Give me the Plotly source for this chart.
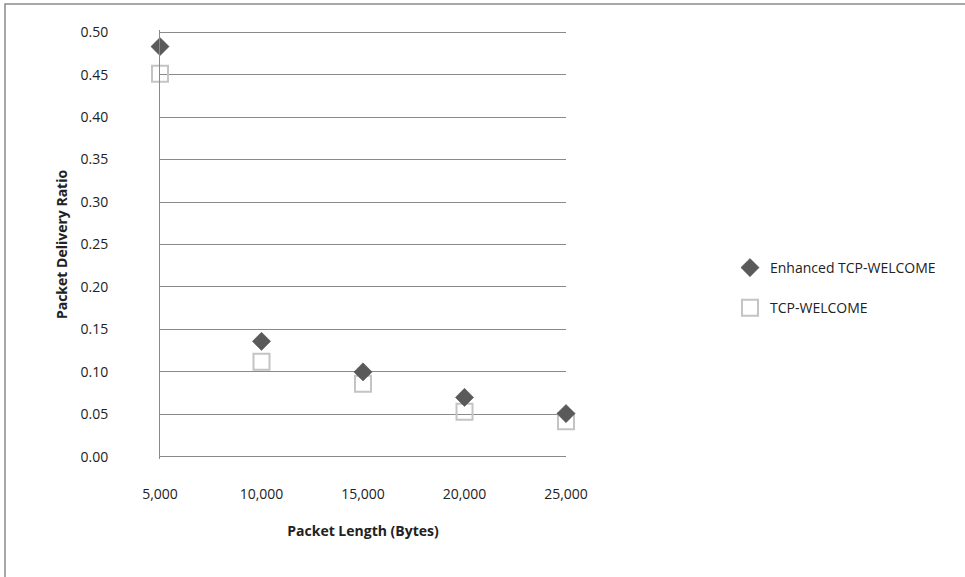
import plotly.graph_objects as go

packet_length = [5000, 10000, 15000, 20000, 25000]
enhanced_pdr = [0.483, 0.136, 0.100, 0.070, 0.051]
welcome_pdr = [0.451, 0.112, 0.086, 0.053, 0.042]
series_names = ["Enhanced TCP-WELCOME", "TCP-WELCOME"]
y_ticks = [0.00, 0.05, 0.10, 0.15, 0.20, 0.25, 0.30, 0.35, 0.40, 0.45, 0.50]
x_ticks = [5000, 10000, 15000, 20000, 25000]

W, H = 965, 577
L, R, T, B = 160, 566, 30, 459

def px_x(p):
    return (p - L) / (R - L)

def px_y(p):
    return (B - p) / (B - T)

font_family = "Open Sans, Noto Sans, sans-serif"

fig = go.Figure()
fig.add_trace(go.Scatter(
    x=packet_length, y=welcome_pdr, mode="markers", name=series_names[1],
    legendgroup="b", legendrank=2, cliponaxis=False,
    marker=dict(symbol="square-open", size=16, color="#c4c4c4",
                line=dict(color="#c4c4c4", width=2)),
))
fig.add_trace(go.Scatter(
    x=packet_length, y=enhanced_pdr, mode="markers", name=series_names[0],
    legendgroup="a", legendrank=1, cliponaxis=False,
    marker=dict(symbol="diamond", size=14, color="#5a5a5a",
                line=dict(color="#4a4a4a", width=0.5)),
))

fig.update_layout(
    width=W, height=H,
    margin=dict(l=L, r=W - R, t=T, b=H - B, pad=0),
    paper_bgcolor="white", plot_bgcolor="white",
    font=dict(family=font_family, size=14, color="#222"),
    showlegend=True,
    legend=dict(x=px_x(730), y=px_y(252), xanchor="left", yanchor="top",
                traceorder="grouped",
                font=dict(family=font_family, size=14, color="#222"),
                tracegroupgap=19, bgcolor="rgba(0,0,0,0)", itemwidth=30),
    xaxis=dict(
        range=[5000, 25000], tickvals=x_ticks, tickformat=",d",
        showgrid=False, zeroline=False, showline=False,
        ticks="", ticklabelstandoff=25,
        tickfont=dict(family=font_family, size=14, color="#222"),
        title=dict(text="<b>Packet Length (Bytes)</b>", standoff=24,
                   font=dict(family=font_family, size=14, color="#222")),
    ),
    yaxis=dict(
        range=[-0.0025, 0.5025], tickvals=y_ticks, tickformat=".2f",
        showgrid=True, gridcolor="#8a8a8a", gridwidth=1,
        zeroline=False, showline=True, linecolor="#8a8a8a", linewidth=1,
        ticks="", ticklabelstandoff=48,
        tickfont=dict(family=font_family, size=14, color="#222"),
        title=dict(text="<b>Packet Delivery Ratio</b>", standoff=9,
                   font=dict(family=font_family, size=14, color="#222")),
    ),
    shapes=[dict(type="rect", xref="paper", yref="paper",
                 x0=px_x(5), x1=px_x(975), y0=px_y(595), y1=px_y(4),
                 line=dict(color="#8a8a8a", width=1.5), layer="below")],
)

fig.write_html("out.html", config={"displayModeBar": False},
               post_script="document.body.style.margin='0px';")
